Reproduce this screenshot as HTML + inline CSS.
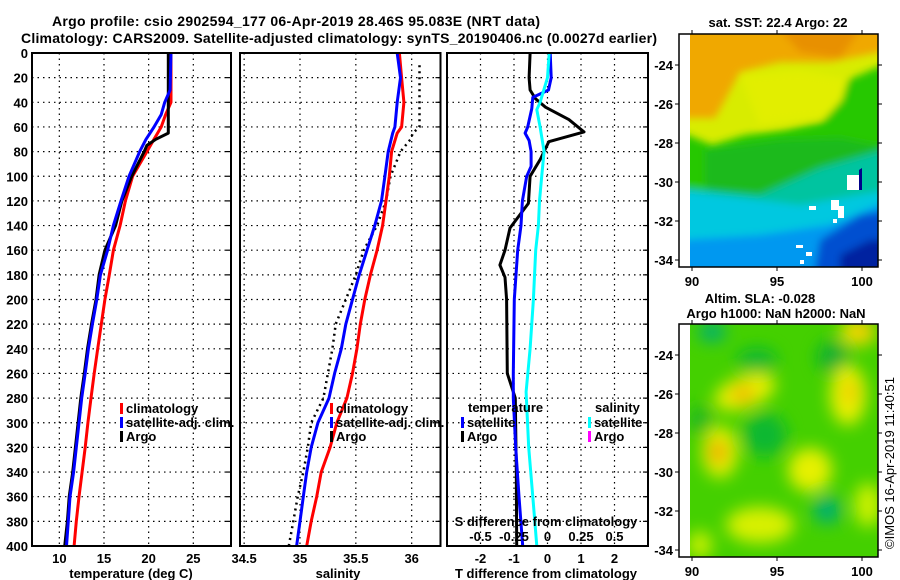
<!DOCTYPE html>
<html><head><meta charset="utf-8"><style>
html,body{margin:0;padding:0;background:#fff;}
svg{display:block;font-family:"Liberation Sans",sans-serif;font-weight:bold;}
</style></head><body>
<svg id="chart" width="900" height="580" viewBox="0 0 900 580" xmlns="http://www.w3.org/2000/svg">
<defs>
<filter id="blur4" x="-20%" y="-20%" width="140%" height="140%"><feGaussianBlur stdDeviation="4"/></filter>
<filter id="blur8" x="-50%" y="-50%" width="200%" height="200%"><feGaussianBlur stdDeviation="8"/></filter>
<clipPath id="m1clip"><rect x="690" y="34" width="188" height="233"/></clipPath>
<clipPath id="m2clip"><rect x="690" y="324" width="188" height="233"/></clipPath>
</defs>
<text x="296" y="26" font-size="14" text-anchor="middle" textLength="488">Argo profile: csio 2902594_177 06-Apr-2019 28.46S 95.083E (NRT data)</text>
<text x="339" y="43" font-size="14" text-anchor="middle" textLength="636">Climatology: CARS2009. Satellite-adjusted climatology: synTS_20190406.nc (0.0027d earlier)</text>

<g id="panels"></g>

<!-- Map 1: SST -->
<g>
<g clip-path="url(#m1clip)">
<rect x="690" y="34" width="188" height="233" fill="#d8ec00"/>
<g filter="url(#blur4)">
<polygon points="680,20 890,20 890,50 830,62 780,62 740,72 725,100 715,118 680,118" fill="#f0a800"/>
<polygon points="780,30 860,30 840,58 800,52" fill="#e89000"/>
<polygon points="740,75 800,70 850,80 860,115 800,120 760,125" fill="#e6f000" opacity="0.7"/>
<polygon points="680,132 712,145 745,135 785,130 822,122 842,100 848,80 890,62 890,160 680,230" fill="#28c800"/>
<polygon points="705,150 780,140 840,138 890,148 890,170 800,190 720,205 705,185" fill="#10b030" opacity="0.6"/>
<polygon points="680,188 760,195 820,168 890,148 890,300 680,300" fill="#00c4a0"/>
<polygon points="680,190 760,200 800,205 890,190 890,300 680,300" fill="#00c8e0"/>
<polygon points="680,240 760,235 830,225 890,200 890,300 680,300" fill="#0098f0"/>
<polygon points="820,240 860,215 890,210 890,300 810,300" fill="#0050d0"/>
<polygon points="840,255 870,240 890,240 890,300 840,300" fill="#0020a0"/>
</g>
<rect x="847" y="175" width="12" height="15" fill="#fff"/>
<polygon points="859,170 862,168 862,190 859,190" fill="#00008a"/>
<rect x="831" y="200" width="8" height="10" fill="#fff"/>
<rect x="838" y="206" width="6" height="12" fill="#fff"/>
<rect x="809" y="206" width="7" height="4" fill="#fff"/>
<rect x="796" y="245" width="7" height="3" fill="#fff"/>
<rect x="806" y="252" width="6" height="4" fill="#fff"/>
<rect x="800" y="260" width="4" height="4" fill="#fff"/>
<rect x="833" y="219" width="4" height="4" fill="#fff"/>
</g>
<rect x="679" y="34" width="199" height="233" fill="none" stroke="#000" stroke-width="1.5"/>
</g>
<text x="778" y="27" font-size="13" text-anchor="middle">sat. SST: 22.4 Argo: 22</text>

<!-- Map 2: SLA -->
<g>
<g clip-path="url(#m2clip)">
<rect x="690" y="324" width="188" height="233" fill="#44d000"/>
<g filter="url(#blur8)">
<ellipse cx="712" cy="332" rx="14" ry="10" fill="#00b070"/>
<ellipse cx="757" cy="360" rx="20" ry="12" fill="#10b830"/>
<ellipse cx="833" cy="357" rx="16" ry="16" fill="#10b030"/>
<ellipse cx="765" cy="435" rx="22" ry="22" fill="#10b830"/>
<ellipse cx="827" cy="510" rx="14" ry="14" fill="#00b070"/>
<ellipse cx="700" cy="420" rx="12" ry="14" fill="#20b820"/>
<ellipse cx="745" cy="392" rx="32" ry="16" fill="#e8f000" transform="rotate(-20 745 392)"/>
<ellipse cx="743" cy="394" rx="12" ry="9" fill="#f0b800"/>
<ellipse cx="720" cy="452" rx="18" ry="26" fill="#e0f000"/>
<ellipse cx="718" cy="452" rx="9" ry="12" fill="#f0a800"/>
<ellipse cx="848" cy="395" rx="18" ry="30" fill="#e8f000"/>
<ellipse cx="850" cy="392" rx="7" ry="12" fill="#f0c800"/>
<ellipse cx="858" cy="332" rx="18" ry="14" fill="#eee000"/>
<ellipse cx="862" cy="330" rx="8" ry="7" fill="#f0c000"/>
<ellipse cx="810" cy="470" rx="22" ry="22" fill="#e6f000"/>
<ellipse cx="760" cy="525" rx="34" ry="18" fill="#d8f000"/>
<ellipse cx="868" cy="505" rx="14" ry="22" fill="#c8f000"/>
<ellipse cx="700" cy="545" rx="12" ry="14" fill="#c8f000"/>
</g>
</g>
<rect x="679" y="324" width="199" height="233" fill="none" stroke="#000" stroke-width="1.5"/>
</g>
<text x="760" y="303" font-size="13" text-anchor="middle">Altim. SLA: -0.028</text>
<text x="776" y="318" font-size="13" text-anchor="middle">Argo h1000: NaN h2000: NaN</text>
<text transform="translate(894,463) rotate(-90)" font-size="13" font-weight="normal" text-anchor="middle">©IMOS 16-Apr-2019 11:40:51</text>
<g id="mapaxes"></g>
</svg>
<script>
// ---------- data ----------
const tempDepthsClim = [0,30,40,50,60,70,80,100,120,140,160,180,200,220,240,260,280,300,320,340,360,380,400];
const tempClim       = [22.5,22.5,22.5,21.9,21.4,20.6,19.8,18.2,17.4,16.8,16.05,15.6,15.1,14.7,14.3,13.9,13.55,13.2,12.9,12.55,12.2,11.9,11.65];
const tempSatAdj     = [22.5,22.4,21.8,21.4,20.6,19.7,19.0,17.8,16.9,16.05,15.4,14.6,14.2,13.7,13.25,12.9,12.5,12.2,11.9,11.6,11.2,11.0,10.8];
const tempArgoDepths = [0,30,60,65,70,75,80,100,120,140,160,180,200,220,240,260,280,300,320,340,360,380,400];
const tempArgo       = [22.2,22.2,22.2,22.2,20.8,19.8,19.5,18.1,17.0,16.3,15.1,14.45,14.1,13.6,13.15,12.8,12.4,12.1,11.8,11.5,11.1,10.9,10.6];

const salDepths      = [0,20,40,60,65,80,100,120,140,160,180,200,220,240,260,280,300,320,340,360,380,400];
const salClim        = [35.89,35.91,35.93,35.91,35.87,35.82,35.80,35.77,35.74,35.69,35.63,35.58,35.54,35.51,35.47,35.42,35.33,35.27,35.19,35.15,35.10,35.06];
const salSatAdj      = [35.87,35.90,35.87,35.85,35.83,35.79,35.76,35.73,35.67,35.60,35.53,35.47,35.41,35.37,35.31,35.26,35.16,35.10,35.06,35.03,35.00,34.97];
const salArgoDepths  = [10,20,40,60,65,70,80,100,120,140,160,180,200,220,240,260,280,300,320,340,360,380,400];
const salArgo        = [36.07,36.07,36.07,36.07,36.01,35.99,35.90,35.81,35.77,35.69,35.57,35.50,35.41,35.32,35.29,35.25,35.21,35.10,35.07,35.03,34.98,34.94,34.90];

const dTDepthsSat    = [0,20,30,36,45,60,65,71,80,92,100,120,140,160,200,260,280,320,360,400];
const dTSat          = [0.08,0.11,0.03,-0.44,-0.47,-0.59,-0.67,-0.55,-0.49,-0.49,-0.62,-0.75,-0.79,-0.89,-0.99,-1.02,-1.02,-0.95,-0.85,-0.74];
const dTDepthsArgo   = [0,20,30,37,44,54,64,72,86,100,122,142,160,172,182,200,260,280,340,400];
const dTArgo         = [-0.52,-0.55,-0.52,-0.36,-0.06,0.64,1.09,0.04,-0.21,-0.52,-0.57,-1.12,-1.27,-1.42,-1.27,-1.22,-1.2,-0.96,-0.93,-0.92];
const dSDepthsSat    = [0,20,40,46,60,80,100,120,140,160,200,240,275,320,360,400];
const dSSat          = [0.013,0,-0.055,-0.08,-0.055,-0.025,-0.043,-0.06,-0.068,-0.088,-0.105,-0.13,-0.16,-0.14,-0.11,-0.08];

const depthTicks = [0,20,40,60,80,100,120,140,160,180,200,220,240,260,280,300,320,340,360,380,400];
const tTicks = [10,15,20,25];
const sTicks = [34.5,35,35.5,36];
const dTTicks = [-2,-1,0,1,2];
const dSTicks = [-0.5,-0.25,0,0.25,0.5];
const lonTicks = [90,95,100];
const latTicks = [-24,-26,-28,-30,-32,-34];

// ---------- helpers ----------
const NS = 'http://www.w3.org/2000/svg';
const root = document.getElementById('panels');
function mk(tag, attrs, parent){const e=document.createElementNS(NS,tag);for(const k in attrs)e.setAttribute(k,attrs[k]);(parent||root).appendChild(e);return e;}
const Y0=53, Y1=546;
const yD = d => Y0 + (d/400)*(Y1-Y0);
function xScale(x0,x1,v0,v1){return v=>x0+(v-v0)/(v1-v0)*(x1-x0);}
const P1={x0:32,x1:231,s:xScale(32,231,6.94,29.22)};
const P2={x0:240,x1:440.5,s:xScale(240,440.5,34.463,36.258)};
const P3={x0:447,x1:648,s:xScale(447,648,-3,3)};
const sS = xScale(447,648,-0.75,0.75);

function frame(P,name,xticks,scale){
  const g=mk('g',{});
  
  
  depthTicks.forEach(d=>{ if(d>0&&d<400){const l=mk('line',{x1:P.x0,x2:P.x1,y1:yD(d),y2:yD(d),stroke:'#000','stroke-width':1.2,'stroke-dasharray':'1.5,4'},g);
    
    }
    mk('line',{x1:P.x1-5,x2:P.x1,y1:yD(d),y2:yD(d),stroke:'#000','stroke-width':1.2},g);
  });
  xticks.forEach(v=>{const x=scale(v);const l=mk('line',{x1:x,x2:x,y1:Y0,y2:Y1,stroke:'#000','stroke-width':1.2,'stroke-dasharray':'1.5,4'},g);
    
    
    const t=mk('text',{x:x,y:563,'font-size':13,'text-anchor':'middle'},g);t.textContent=String(v);
    
    
  });
  return g;
}
function border(P){mk('rect',{x:P.x0,y:Y0,width:P.x1-P.x0,height:Y1-Y0,fill:'none',stroke:'#000','stroke-width':2});}
function line(depths,vals,scale,color,name,dash){
  const pts=depths.map((d,i)=>scale(vals[i]).toFixed(1)+','+yD(d).toFixed(1)).join(' ');
  const a={points:pts,fill:'none',stroke:color,'stroke-width':dash?2.5:3,'stroke-linejoin':'round'};
  if(dash)a['stroke-dasharray']=dash;
  const p=mk('polyline',a);
  
  
}
function txt(x,y,s,size,anchor,name){const t=mk('text',{x:x,y:y,'font-size':size,'text-anchor':anchor||'start'});t.textContent=s;
  
  return t;}
function legendItem(x,y,color,label,name){
  const r=mk('rect',{x:x,y:y-10,width:3,height:11,fill:color});
  
  
  txt(x+6,y,label,13,'start',name);
}

// panel 1
frame(P1,'temperature-panel',tTicks,P1.s);
depthTicks.forEach(d=>{const t=txt(28,yD(d)+5,String(d),13,'end','y-tick-label');});
line(tempDepthsClim,tempClim,P1.s,'#ff0000','temperature-climatology-line');
line(tempArgoDepths,tempArgo,P1.s,'#000000','temperature-argo-line');
line(tempDepthsClim,tempSatAdj,P1.s,'#0000ff','temperature-satellite-line');
border(P1);
txt(131,578,'temperature (deg C)',13,'middle','temperature-axis-title');
legendItem(120,413,'#ff0000','climatology','legend-climatology');
legendItem(120,427,'#0000ff','satellite-adj. clim.','legend-satellite-adj');
legendItem(120,441,'#000000','Argo','legend-argo');

// panel 2
frame(P2,'salinity-panel',sTicks,P2.s);
line(salArgoDepths,salArgo,P2.s,'#000000','salinity-argo-line','2,4');
line(salDepths,salClim,P2.s,'#ff0000','salinity-climatology-line');
line(salDepths,salSatAdj,P2.s,'#0000ff','salinity-satellite-line');
border(P2);
txt(338,578,'salinity',13,'middle','salinity-axis-title');
legendItem(330,413,'#ff0000','climatology','legend-climatology-2');
legendItem(330,427,'#0000ff','satellite-adj. clim.','legend-satellite-adj-2');
legendItem(330,441,'#000000','Argo','legend-argo-2');

// panel 3
frame(P3,'difference-panel',dTTicks,P3.s);
line(dTDepthsArgo,dTArgo,P3.s,'#000000','t-diff-argo-line');
line(dTDepthsSat,dTSat,P3.s,'#0000ff','t-diff-satellite-line');
line(dSDepthsSat,dSSat,sS,'#00ffff','s-diff-satellite-line');
border(P3);
txt(546,578,'T difference from climatology',13,'middle','t-diff-axis-title');
txt(546,526,'S difference from climatology',13,'middle','s-diff-axis-title');
dSTicks.forEach(v=>{txt(sS(v),541,String(v),13,'middle','s-tick-label');});
txt(468,412,'temperature',13,'start','legend-temperature-heading');
legendItem(461,427,'#0000ff','satellite','legend-t-satellite');
legendItem(461,441,'#000000','Argo','legend-t-argo');
txt(595,412,'salinity',13,'start','legend-salinity-heading');
legendItem(588,427,'#00ffff','satellite','legend-s-satellite');
legendItem(588,441,'#ff00ff','Argo','legend-s-argo');

// map axes
const ma=document.getElementById('mapaxes');
const lonX = v=>692+(v-90)*17;
[[34,267],[324,557]].forEach(([top,bot],mi)=>{
  const latY = v=>top+31+(-24-v)*19.5;
  lonTicks.forEach(v=>{
    mk('line',{x1:lonX(v),x2:lonX(v),y1:top-4,y2:top,stroke:'#000'},ma);
    mk('line',{x1:lonX(v),x2:lonX(v),y1:bot,y2:bot+4,stroke:'#000'},ma);
    const t=mk('text',{x:lonX(v),y:bot+19,'font-size':13,'text-anchor':'middle'},ma);t.textContent=String(v);
    
    
  });
  latTicks.forEach(v=>{
    mk('line',{x1:675,x2:679,y1:latY(v),y2:latY(v),stroke:'#000'},ma);
    mk('line',{x1:878,x2:882,y1:latY(v),y2:latY(v),stroke:'#000'},ma);
    const t=mk('text',{x:673,y:latY(v)+5,'font-size':13,'text-anchor':'end'},ma);t.textContent=String(v);
    
    
  });
});
</script>
</body></html>
